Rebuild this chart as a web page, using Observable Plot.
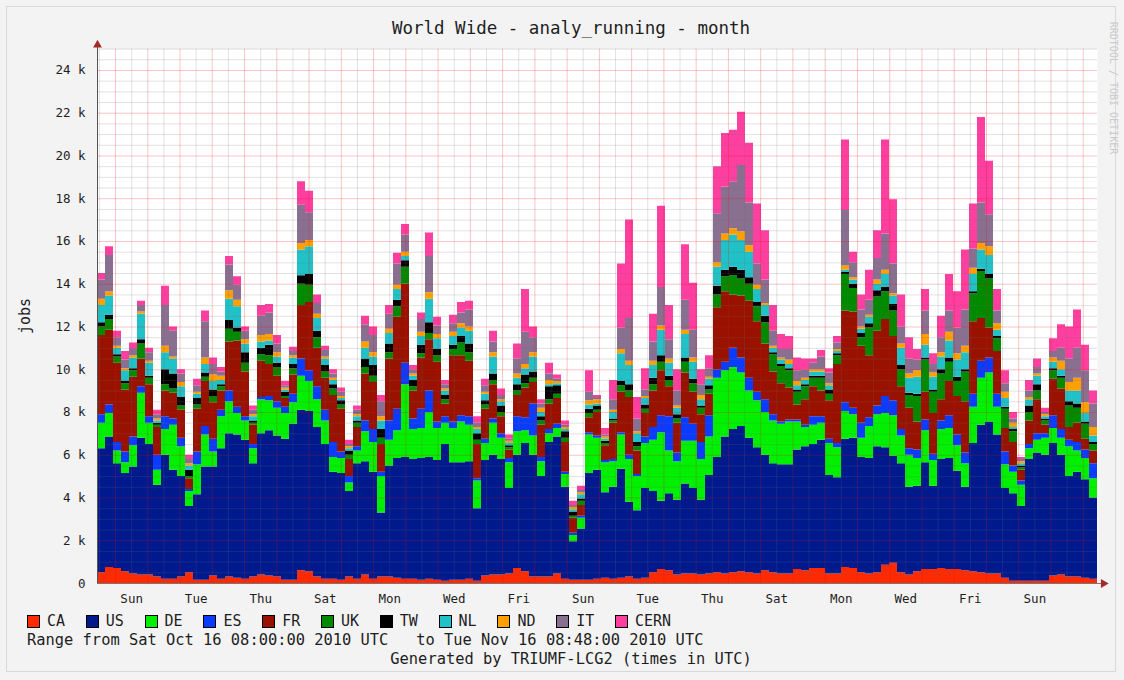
<!DOCTYPE html>
<html>
<head>
<meta charset="utf-8">
<script src="https://cdn.jsdelivr.net/npm/d3@7"></script>
<script src="https://cdn.jsdelivr.net/npm/@observablehq/plot@0.6"></script>
<style>
  html, body { margin: 0; padding: 0; background: #f3f3f3; }
  #page { position: absolute; left: 0; top: 0; width: 1124px; height: 680px; background: #f3f3f3;
          font-family: "DejaVu Sans Mono", monospace; color: #1e1e1e; overflow: hidden; }
  #border { position: absolute; left: 6px; top: 6px; width: 1110px; height: 666px; border: 1px solid #d8d8d8; box-sizing: border-box; }
  #chart { position: absolute; left: 0; top: 0; }
  #title { position: absolute; left: 571px; top: 18px; transform: translateX(-50%); font-size: 17.5px; line-height: 20px; white-space: pre; }
  #ylabel { position: absolute; left: 25px; top: 316px; transform: translate(-50%, -50%) rotate(-90deg); font-size: 15px; white-space: pre; }
  #legend { position: absolute; left: 0; top: 612px; width: 1124px; height: 20px; }
  .item { position: absolute; top: 0; height: 20px; font-size: 15px; line-height: 20px; white-space: pre; }
  .sw { position: absolute; left: 0; top: 3px; width: 11px; height: 11px; border: 1px solid #000; }
  .lab { position: absolute; left: 20px; top: -1px; }
  #range { position: absolute; left: 27px; top: 631px; font-size: 15.4px; line-height: 18px; white-space: pre; }
  #gen { position: absolute; left: 571px; top: 650px; transform: translateX(-50%); font-size: 15.4px; line-height: 18px; white-space: pre; }
  #rrd { position: absolute; left: 1113px; top: 88px; transform: translate(-50%, -50%) rotate(90deg); font-size: 10px; color: #c9c9c9; white-space: pre; }
</style>
</head>
<body>
<div id="page">
  <div id="border"></div>
  <div id="chart"></div>
  <div id="title">World Wide - analy_running - month</div>
  <div id="ylabel">jobs</div>
  <div id="legend"></div>
  <div id="range">Range from Sat Oct 16 08:00:00 2010 UTC   to Tue Nov 16 08:48:00 2010 UTC</div>
  <div id="gen">Generated by TRIUMF-LCG2 (times in UTC)</div>
  <div id="rrd">RRDTOOL / TOBI OETIKER</div>
</div>
<script>
// ---- categories and colours ----
const seriesNames = ["CA","US","DE","ES","FR","UK","TW","NL","ND","IT","CERN"];
const seriesColors = ["#ff2a00","#001a8e","#00f000","#0a3cff","#991200","#008a00","#000000","#20c2c8","#ffa000","#8a7090","#ff3fa0"];

// ---- series values: running jobs (thousands), consecutive ~6 h bins over the month ----
const CA = [.5,.75,.7,.55,.45,.4,.4,.3,.2,.2, .3,.5,.15,.15,.35,.2,.3,.25,.2,.3,
 .4,.35,.3,.15,.15,.6,.55,.3,.2,.2, .15,.3,.2,.4,.2,.3,.3,.25,.2,.2,
 .15,.2,.15,.1,.15,.15,.2,.1,.35,.4, .4,.45,.7,.55,.3,.3,.3,.45,.2,.15,
 .15,.15,.2,.25,.2,.25,.3,.2,.25,.5, .65,.6,.4,.45,.45,.4,.45,.5,.45,.5,
 .55,.5,.45,.6,.5,.45,.45,.65,.6,.7, .7,.45,.45,.75,.7,.5,.45,.5,.85,.95,
 .5,.4,.55,.65,.65,.7,.65,.65,.6,.55, .5,.45,.45,.25,.1,.1,.1,.1,.1,.35,
 .4,.3,.3,.25,.2];
const US = [5.8,6.1,4.9,4.6,5.0,6.4,6.1,4.3,5.8,5.1, 4.7,3.1,4.0,5.3,5.1,6.1,6.7,6.7,6.5,5.3,
 6.6,6.8,6.6,6.6,7.3,7.5,7.5,7.0,6.3,5.0, 5.0,4.0,5.4,5.3,5.0,3.0,5.2,5.6,5.7,5.6,
 5.7,5.7,5.6,6.4,5.5,5.5,5.5,3.4,5.4,5.6, 5.4,4.0,5.3,6.0,5.7,4.7,6.3,6.4,4.3,1.8,
 2.4,5.0,5.1,4.0,4.3,5.1,3.5,3.2,4.2,3.8, 3.2,3.6,3.5,4.2,4.0,3.5,4.6,5.4,6.4,6.7,
 6.8,6.3,5.9,5.4,5.1,5.1,5.1,5.6,5.8,5.8, 6.0,4.6,4.5,6.0,6.1,5.4,5.4,5.9,5.5,5.0,
 5.1,4.1,4.0,5.0,3.9,5.1,5.2,4.6,3.9,6.0, 6.9,7.1,6.5,4.2,4.1,3.5,5.7,6.0,5.9,6.2,
 5.6,4.7,4.9,4.6,3.8];
const DE = [1.2,1.1,.6,.5,1.0,2.1,1.0,.7,1.2,2.1, 1.4,.7,1.4,1.5,.7,1.5,1.5,1.0,.9,.7,
 1.6,1.4,1.3,1.2,1.0,1.6,1.4,1.3,1.1,.7, .7,.4,.6,1.4,1.4,1.7,1.2,1.3,3.4,1.4,
 1.4,2.1,1.5,1.0,1.6,1.9,1.7,1.3,.8,1.5, 1.0,1.2,1.1,.6,.9,.7,.4,.4,.6,.3,
 .5,1.8,1.5,1.4,1.2,1.6,2.0,1.6,2.1,2.4, 3.2,2.0,1.8,2.0,2.2,1.9,1.8,3.7,3.1,2.9,
 2.5,2.2,2.2,2.0,2.0,1.9,2.0,1.3,.9,.9, .8,1.5,1.4,1.3,1.1,.9,1.5,1.5,1.6,1.9,
 1.3,1.5,1.3,1.5,1.2,1.4,1.4,1.2,1.1,1.7, 2.2,2.3,1.3,1.1,1.0,1.0,.5,.6,.8,.7,
 .8,1.4,1.0,1.0,.9];
const ES = [.4,.4,.4,.5,.4,.3,.3,.7,.6,.3, .4,.1,.6,.4,.6,.3,.5,.3,.2,.2,
 .1,.2,.3,.3,.4,.8,.5,.6,.5,.7, .3,.3,.2,.5,.6,.2,.9,1.0,1.0,.5,
 .9,1.0,.3,.3,.3,.3,.4,.1,.2,.2, .2,.2,.7,.6,1.5,.2,.2,.2,.1,.1,
 .1,.1,.1,.1,.1,.1,.2,.1,.3,.6, .8,1.6,.4,1.1,.8,.8,1.0,.4,.4,.9,
 .7,.6,.4,.6,.3,.1,.1,.1,.1,.4, .3,.2,.2,.4,.3,.7,.4,.4,.8,.7,
 .3,.3,.4,.5,.3,.4,.6,.5,.5,.6, .8,.7,.6,.6,.3,.2,.2,.3,.2,.6,
 .4,.3,.4,.4,.7];
const FR = [3.7,3.5,3.7,2.9,2.8,1.3,1.5,1.3,1.2,1.2, 1.3,.5,2.0,2.1,1.7,.9,2.3,3.1,2.1,.9,
 1.7,1.5,1.2,.4,.9,2.5,3.2,1.8,1.5,2.2, 2.0,.8,.9,2.2,2.2,1.3,2.9,4.3,3.7,1.3,
 2.4,2.4,2.8,.6,3.1,2.8,2.6,1.6,1.4,1.6, .8,.4,1.0,1.4,1.0,1.5,1.2,1.2,1.4,.7,
 .5,.7,1.1,.7,1.7,1.9,2.7,1.1,1.1,1.7, 2.1,1.4,1.4,2.1,1.5,1.3,1.0,2.9,3.3,2.5,
 2.9,3.6,3.3,2.6,2.0,1.8,1.5,.7,1.2,1.4, 1.2,1.8,3.7,4.3,4.5,3.6,2.9,3.5,3.6,3.0,
 2.0,1.9,1.3,1.3,1.9,1.0,1.6,1.8,2.4,3.4, 2.0,1.4,2.0,1.1,1.1,.5,1.1,1.6,.4,1.7,
 1.9,.6,.9,.5,.6];
const UK = [.4,.5,.3,.3,.3,.7,.3,.1,.3,.2, .2,.1,.2,.2,.3,.2,.6,.4,.4,.1,
 .3,.4,.4,.1,.3,1.0,.8,.5,.3,.3, .2,.2,.2,.3,.3,.3,.3,.5,.8,.2,
 .2,.3,.3,.2,.3,.6,.4,.2,.2,.2, .2,.1,.2,.2,.2,.2,.2,.2,.2,.1,
 .2,.2,.1,.1,.1,.3,.3,.2,.2,.3, .4,.3,.2,.5,.4,.3,.2,.6,.7,.9,
 .8,.8,.7,1.0,.8,.8,.8,.6,.6,.4, .6,.3,.4,1.7,1.1,.4,1.3,1.6,1.3,1.2,
 .8,.6,1.2,1.5,1.0,1.2,.9,.7,1.4,1.3, 2.2,2.3,.6,.9,.5,.1,.4,.4,.2,.4,
 .5,1.0,.7,.7,.3];
const TW = [.2,.2,.1,.1,.1,.2,.1,.1,.7,.7, .4,.3,.3,.2,.3,.1,.4,.2,.5,.1,
 .3,.5,.2,.2,.2,.4,.5,.3,.3,.2, .2,.2,.1,.4,.5,.4,.4,.3,.3,.3,
 .4,.5,.3,.2,.2,.3,.4,.3,.2,.3, .3,.1,.3,.4,.3,.2,.6,.4,.3,.2,
 .1,.2,.2,.1,.1,.2,.3,.2,.2,.3, .3,.2,.2,.2,.2,.1,.2,.4,.3,.4,
 .4,.3,.2,.3,.1,.1,.1,.1,.1,.1, .1,.2,.1,.1,.2,.2,.2,.3,.2,.3,
 .2,.1,.1,.1,.1,.2,.2,.2,.1,.1, .1,.2,.1,.1,.1,.1,.3,.3,.1,.1,
 .1,.2,.2,.1,.1];
const NL = [.8,.9,.3,.5,.5,1.2,.6,.1,.8,.7, .5,.2,.2,.4,.4,.2,1.0,1.0,.4,.2,
 .3,.2,.3,.1,.3,1.2,1.3,.6,.3,.2, .1,.1,.2,.5,.4,.4,.5,.5,.2,.2,
 .4,1.1,.5,.2,.4,.4,.6,.2,.3,.8, .2,.1,.3,.3,.7,.2,.1,.1,.1,.1,
 .2,.2,.1,.1,.3,1.3,.9,.4,.3,.6, 1.2,.6,.3,1.1,.8,.3,.3,.9,1.4,1.5,
 1.4,1.2,.6,.5,.2,.2,.2,.2,.2,.2, .2,.2,.1,.1,.2,.2,.3,.3,.6,.4,
 .8,.7,.8,.6,.6,.6,.8,.8,.8,.8, .9,.9,.3,.4,.1,.1,.3,.4,.1,.3,
 .3,.5,.6,.4,.3];
const ND = [.3,.2,.1,.1,.1,.1,.1,.1,.3,.1, .2,.1,.1,.3,.3,.2,.4,.3,.2,.1,
 .3,.3,.2,.1,.1,.3,.3,.2,.1,.1, .1,.1,.1,.3,.2,.2,.2,.2,.2,.1,
 .2,.3,.2,.1,.2,.2,.2,.1,.1,.2, .1,.1,.2,.2,.2,.2,.2,.1,.1,.1,
 .1,.2,.2,.1,.1,.2,.2,.1,.1,.2, .2,.2,.1,.2,.2,.2,.1,.2,.3,.3,
 .4,.3,.2,.1,.1,.1,.2,.2,.1,.1, .1,.1,.1,.2,.1,.1,.1,.2,.2,.1,
 .2,.2,.3,.5,.2,.2,.4,.3,.3,.3, .3,.4,.3,.3,.2,.1,.1,.1,.1,.2,
 .4,.4,.6,.5,.4];
const IT = [.9,1.7,.4,.4,.3,.3,.4,.2,1.9,1.2, .4,.2,.3,1.7,.5,.2,1.2,.7,.4,.2,
 .9,1.0,.4,.1,.2,1.8,1.3,.5,.3,.2, .2,.1,.2,.8,.8,.7,.7,1.0,.8,.2,
 .6,1.7,.4,.2,.4,.5,.8,.2,.3,.5, .2,.1,.7,1.5,.7,.2,.3,.1,.1,.1,
 .1,.4,.1,.1,.5,1.0,2.0,.6,.3,.9, 1.8,.9,.7,1.4,1.3,.5,.4,2.3,2.2,2.2,
 3.1,2.0,1.0,1.1,.7,.4,.5,.5,.4,.3, .6,.5,.3,2.6,.7,.8,.7,1.0,1.7,1.4,
 .8,.7,.5,1.1,.4,.7,1.0,1.2,1.7,.9, 1.9,1.5,.6,.4,.2,.1,.3,.3,.1,.3,
 .6,1.1,1.4,1.5,1.1];
const CERN = [.3,.4,.3,.4,.3,.2,.2,.2,.9,.2, .2,.2,.3,.5,.3,.2,.4,.4,.2,.2,
 .5,.4,.4,.2,.2,1.1,1.0,.4,.2,.2, .2,.2,.2,.4,.4,.3,.4,.5,.5,.2,
 .3,1.1,.4,.2,.4,.5,.4,.3,.3,.5, .3,.2,.7,2.0,.5,.2,.5,.2,.2,.2,
 .2,1.0,.1,.3,.9,3.0,4.6,1.0,1.0,1.3, 3.8,1.6,1.0,2.6,2.2,.7,.6,2.2,2.5,2.4,
 2.5,2.8,2.8,2.3,1.2,.7,.6,.6,.5,.2, .3,.2,.3,3.3,.5,.7,1.4,1.3,4.4,3.0,
 1.5,1.0,.5,1.0,.5,1.0,1.7,1.7,2.8,2.1, 4.0,2.5,1.0,.6,.3,.1,.5,.4,.2,.6,
 1.1,1.5,1.8,1.2,.6];
const seriesData = [CA, US, DE, ES, FR, UK, TW, NL, ND, IT, CERN];

// ---- time window of the graph and tick labels ----
const windowStart = "2010-10-16T10:36:00Z";
const windowEnd   = "2010-11-16T10:36:00Z";
const xTickDays   = ["2010-10-17","2010-10-19","2010-10-21","2010-10-23","2010-10-25","2010-10-27","2010-10-29",
                     "2010-10-31","2010-11-02","2010-11-04","2010-11-06","2010-11-08","2010-11-10","2010-11-12","2010-11-14"];
const xTickLabels = ["Sun","Tue","Thu","Sat","Mon","Wed","Fri","Sun","Tue","Thu","Sat","Mon","Wed","Fri","Sun"];
const yTicks      = [0,2,4,6,8,10,12,14,16,18,20,22,24];
const yTickLabels = ["0","2 k","4 k","6 k","8 k","10 k","12 k","14 k","16 k","18 k","20 k","22 k","24 k"];

// ---- build table ----
const t0 = new Date(windowStart), t1 = new Date(windowEnd);
const nBins = CA.length;
const binMs = (t1 - t0) / nBins;
const rows = [];
seriesNames.forEach((name, s) => {
  const vals = seriesData[s];
  for (let i = 0; i <= nBins; i++) {
    rows.push({series: name, time: new Date(+t0 + i * binMs), value: vals[Math.min(i, nBins - 1)]});
  }
});

const halfDays = d3.utcHour.every(12).range(t0, t1);
const midnights = halfDays.filter(d => d.getUTCHours() === 0);
const noons = halfDays.filter(d => d.getUTCHours() === 12);
const tickDates = xTickDays.map(s => new Date(s + "T12:00:00Z"));
const tickLabelOf = new Map(tickDates.map((d, i) => [+d, xTickLabels[i]]));
const yMax = 25;
const arrowX = new Date(+t1 + binMs * 0.75);
const minorY = d3.range(0.5, yMax + 0.01, 0.5).filter(v => v % 2 !== 0);
const majorY = yTicks.filter(v => v > 0);

const chart = Plot.plot({
  width: 1124,
  height: 610,
  marginLeft: 97,
  marginRight: 27,
  marginTop: 48.6,
  marginBottom: 27,
  x: {type: "utc", domain: [t0, t1], label: null},
  y: {domain: [0, yMax], label: null},
  color: {domain: seriesNames, range: seriesColors},
  style: {background: "transparent", fontFamily: "'DejaVu Sans Mono', monospace", fontSize: "12.5px", color: "#1e1e1e"},
  marks: [
    Plot.frame({fill: "white", stroke: null}),
    Plot.areaY(rows, {x: "time", y: "value", z: "series", fill: "series", order: seriesNames, curve: "step-after"}),
    Plot.ruleY(minorY, {stroke: "#707070", strokeOpacity: 0.2}),
    Plot.ruleX(noons, {stroke: "#707070", strokeOpacity: 0.2}),
    Plot.ruleY(majorY, {stroke: "#e01010", strokeOpacity: 0.24}),
    Plot.ruleX(midnights, {stroke: "#e01010", strokeOpacity: 0.24}),
    Plot.ruleX([t0], {y1: 0, y2: yMax + 0.15, stroke: "#555"}),
    Plot.ruleY([0], {x1: t0, x2: arrowX, stroke: "#777"}),
    Plot.dot([t0], {x: d => d, y: yMax + 0.2, symbol: "triangle", r: 3.3, fill: "#a52a2a", stroke: null}),
    Plot.dot([arrowX], {x: d => d, y: 0, symbol: "triangle", rotate: 90, r: 3.3, fill: "#a52a2a", stroke: null}),
    Plot.axisX({ticks: tickDates, tickFormat: d => tickLabelOf.get(+d), tickSize: 0, tickPadding: 11, label: null}),
    Plot.axisY({ticks: yTicks, tickFormat: d => yTickLabels[yTicks.indexOf(d)], tickSize: 0, tickPadding: 12, label: null})
  ]
});
document.getElementById("chart").appendChild(chart);

// ---- legend ----
const legend = document.getElementById("legend");
seriesNames.forEach((name, i) => {
  const item = document.createElement("div");
  item.className = "item";
  item.style.left = (27 + 58.8 * i) + "px";
  const sw = document.createElement("div");
  sw.className = "sw";
  sw.style.background = seriesColors[i];
  const lab = document.createElement("div");
  lab.className = "lab";
  lab.textContent = name;
  item.appendChild(sw);
  item.appendChild(lab);
  legend.appendChild(item);
});
</script>
</body>
</html>
